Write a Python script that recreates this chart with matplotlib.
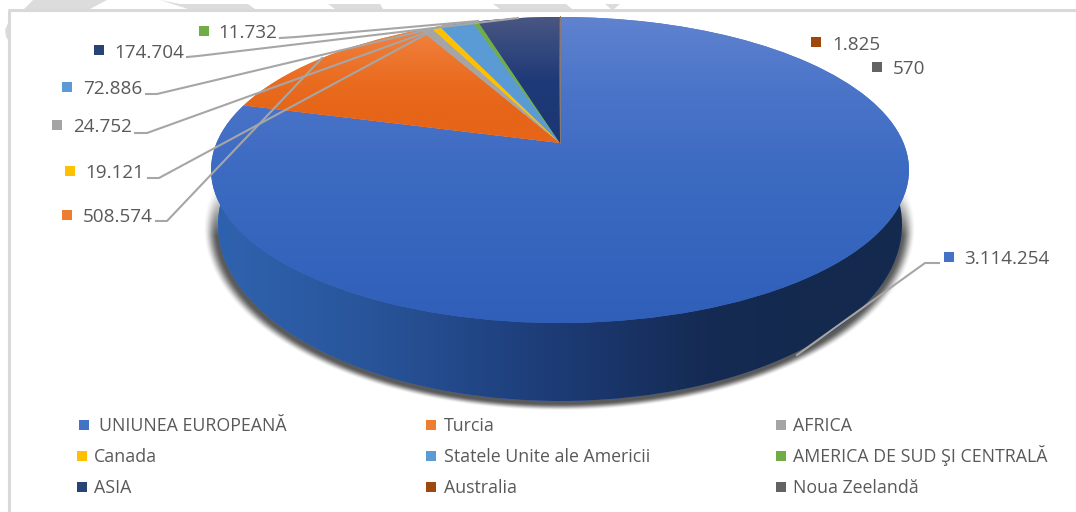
import numpy as np
import matplotlib
matplotlib.use("Agg")
import matplotlib.pyplot as plt
from matplotlib.colors import LinearSegmentedColormap as LSC
from matplotlib.patches import Rectangle, Polygon
from matplotlib.transforms import Transform

categories = ["UNIUNEA EUROPEANĂ", "Turcia", "AFRICA", "Canada", "Statele Unite ale Americii",
              "AMERICA DE SUD ŞI CENTRALĂ", "ASIA", "Australia", "Noua Zeelandă"]
values = [3114254, 508574, 24752, 19121, 72886, 11732, 174704, 1825, 570]
colors = ["#4472c4", "#ed7d31", "#a5a5a5", "#ffc000", "#5b9bd5", "#70ad47", "#264478", "#9e480e", "#636363"]
top_grad = [["#6083cf", "#4a74c8", "#3d6bc2", "#3565bd", "#2f5fb8"],
            ["#f08c50", "#ee7a34", "#ea6c20", "#e66518", "#e66518"],
            ["#a5a5a5"] * 2, ["#ffc000"] * 2, ["#5b9bd5"] * 2, ["#70ad47"] * 2,
            ["#4a5782", "#1f3a78", "#1b3672"], ["#9e480e"] * 2, ["#636363"] * 2]
side_stops = ["#2f62ae", "#2b5aa2", "#264f92", "#1f417f", "#1a356a", "#152b53", "#14294e", "#14294e"]

label_pos = {0: (964, 258), 1: (83, 215), 2: (73, 126), 3: (85, 172), 4: (83, 88), 5: (218, 31),
             6: (114, 51), 7: (832, 43), 8: (893, 68)}
sq_pos = {0: (949, 257), 1: (67, 215), 2: (57, 125), 3: (70, 171), 4: (67, 87), 5: (204, 31),
          6: (99, 50), 7: (816, 42), 8: (877, 67)}
leaders = [[(939, 263), (925, 263), (797, 355)],
           [(156, 221), (167, 221), (322, 58)],
           [(135, 133), (147, 133), (430, 31)],
           [(148, 178), (159, 178), (430, 32)],
           [(146, 94), (157, 94), (452, 24)],
           [(280, 38), (296, 37), (478, 21)],
           [(187, 57), (198, 56), (518, 18)]]
legend_sq = [(84, 425), (431, 425), (781, 425), (82, 456), (431, 456), (781, 456), (82, 487), (431, 487), (781, 487)]
legend_tx = [99, 444, 793, 94, 444, 793, 94, 444, 793]
legend_y = [425, 425, 425, 456, 456, 456, 487, 487, 487]

W, H = 1076, 512
FONT = "Open Sans"
TXT = "#595959"


class Persp(Transform):
    """Perspective view of the unit circle, into pixel coordinates."""
    input_dims = output_dims = 2
    is_separable = False
    has_inverse = False

    def __init__(self, cx, cy, half_w, up, down):
        super().__init__()
        self.cx, self.cy = cx, cy
        self.k = (down - up) / (down + up)
        self.b = up * (1 + self.k)
        self.a = half_w * np.sqrt(1 - self.k ** 2)

    def transform_non_affine(self, v):
        v = np.asarray(v, float)
        w = 1 + self.k * v[:, 1]
        return np.column_stack([self.cx + self.a * v[:, 0] / w, self.cy - self.b * v[:, 1] / w])


fig = plt.figure(figsize=(W / 100, H / 100), dpi=100, facecolor="white")
ax = fig.add_axes([0, 0, 1, 1])

low, _ = ax.pie(values, colors=colors, startangle=90, counterclock=False)
top, _ = ax.pie(values, colors=colors, startangle=90, counterclock=False)
ax.set_aspect("auto")
ax.set_xlim(0, W)
ax.set_ylim(H, 0)
ax.axis("off")

T_top = Persp(560, 143, 349, 126, 180)
T_low = Persp(560, 198, 342, 149, 203)

# page furniture
for poly in ([(24, 9), (33, 0), (107, 0), (90, 9)],
             [(160, 0), (180, 4), (248, 4), (255, 9), (188, 9)],
             [(328, 4), (380, 4), (383, 9), (335, 9)],
             [(493, 4), (566, 4), (572, 9), (500, 9)],
             [(605, 4), (620, 4), (614, 9), (611, 9)],
             [(8, 23), (5, 30), (6, 37), (8, 40)]):
    ax.add_patch(Polygon(poly, fc="#dcdcdc", ec="none", zorder=0))
ax.plot([8, W], [10, 10], color="#d9d9d9", lw=2.2, zorder=1, solid_capstyle="butt")
ax.plot([9, 9], [10, H], color="#d9d9d9", lw=2.2, zorder=1, solid_capstyle="butt")

# soft shadow
yy, xx = np.mgrid[0:H, 0:W]
d = np.sqrt(((xx - 559) / 350.0) ** 2 + ((yy - 227) / 180.0) ** 2)
sh = np.zeros((H, W, 4))
sh[..., :3] = 0.28
s = np.clip((1.018 - d) / 0.04, 0, 1)
fade = np.clip((yy - 185) / 50.0, 0, 1)
sh[..., 3] = s * s * (3 - 2 * s) * fade * 0.9
ax.imshow(sh, extent=(0, W, H, 0), aspect="auto", zorder=1.5, interpolation="bilinear")

# side wall with horizontal shading
w = low[0]
w.set_transform(T_low + ax.transData)
w.set_zorder(2)
w.set_edgecolor("none")
im = ax.imshow(np.linspace(0, 1, 256)[None, :], cmap=LSC.from_list("s", side_stops),
               extent=(218, 902, 402, 48), aspect="auto", zorder=2.1)
im.set_clip_path(w)
for w in low[1:]:
    w.set_visible(False)

# top face with vertical shading
for i, w in enumerate(top):
    w.set_transform(T_top + ax.transData)
    w.set_zorder(3 + i * 0.01)
    w.set_edgecolor("none")
    g = ax.imshow(np.linspace(0, 1, 256)[:, None], cmap=LSC.from_list(f"t{i}", top_grad[i]),
                  extent=(205, 915, 325 if i == 0 else 145, 15), aspect="auto", zorder=3.005 + i * 0.01)
    g.set_clip_path(w)
ax.plot([560, 560], [16, 143], color="#8a7a70", lw=0.7, zorder=3.2)

# data labels
for i, v in enumerate(values):
    txt = f"{v:,}".replace(",", ".")
    x, y = label_pos[i]
    ax.text(x, y + 6.5, txt, fontsize=13.6, family=FONT, color=TXT, va="baseline", ha="left", zorder=6)
    sx, sy = sq_pos[i]
    ax.add_patch(Rectangle((sx - 5, sy - 5), 10, 10, fc=colors[i], ec="none", zorder=6))

for pts in leaders:
    p = np.array(pts)
    ax.plot(p[:, 0], p[:, 1], color="#a6a6a6", lw=1.5, zorder=5, solid_joinstyle="miter")

# legend
for i, name in enumerate(categories):
    sx, sy = legend_sq[i]
    ax.add_patch(Rectangle((sx - 5, sy - 5), 10, 10, fc=colors[i], ec="none", zorder=6))
    ax.text(legend_tx[i], legend_y[i] + 6.2, name, fontsize=12.8, family=FONT, color=TXT, va="baseline", ha="left", zorder=6)

fig.savefig("out.png", dpi=100)
